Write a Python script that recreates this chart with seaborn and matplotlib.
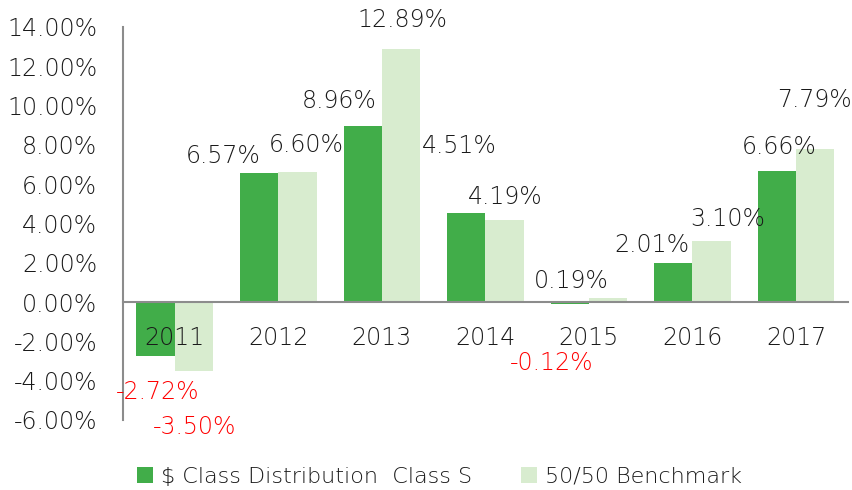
import matplotlib
matplotlib.use("Agg")
import matplotlib.pyplot as plt
import matplotlib.ticker as mticker
from matplotlib.patches import Patch
import seaborn as sns
import pandas as pd

years = ["2011", "2012", "2013", "2014", "2015", "2016", "2017"]
series_names = ["$ Class Distribution  Class S", "50/50 Benchmark"]
class_s = [-2.72, 6.57, 8.96, 4.51, -0.12, 2.01, 6.66]
benchmark = [-3.50, 6.60, 12.89, 4.19, 0.19, 3.10, 7.79]

# label offsets (pixels) relative to each bar's end, as placed in the reference
offsets_s = [(2, -36), (-36, 17), (-24, 25), (-7, 67), (-18, -59), (-21, 18), (2, 24)]
offsets_b = [(1, -56), (9, 27), (1, 29), (1, 23), (-37, 17), (16, 22), (-1, 49)]

dark = "#41AD49"
light = "#D8ECCF"
text_c = "#1a1a1a"
spine_c = "#8c8c8c"

df = pd.DataFrame({
    "year": years * 2,
    "value": class_s + benchmark,
    "series": [series_names[0]] * len(years) + [series_names[1]] * len(years),
})

sns.set_theme(style="white")
plt.rcParams["font.family"] = ["DejaVu Sans"]
plt.rcParams["font.weight"] = "light"

fig = plt.figure(figsize=(8.52, 4.90), dpi=100)
ax = fig.add_axes([0.1444, 0.1429, 0.9950 - 0.1444, 0.9449 - 0.1429])

sns.barplot(data=df, x="year", y="value", hue="series", hue_order=series_names,
            palette=[dark, light], width=0.74, ax=ax, legend=False, saturation=1,
            linewidth=0)

ax.set_axisbelow(False)
ax.set_xlim(-0.5, 6.5)
ax.set_ylim(-6, 14)
ax.set_yticks(range(-6, 15, 2))
ax.yaxis.set_major_formatter(mticker.FuncFormatter(lambda v, p: f"{v:.2f}%"))
ax.set_xlabel("")
ax.set_ylabel("")

for s in ["top", "right"]:
    ax.spines[s].set_visible(False)
ax.spines["bottom"].set_position(("data", 0))
ax.spines["bottom"].set_color(spine_c)
ax.spines["left"].set_color(spine_c)
ax.spines["bottom"].set_linewidth(1.5)
ax.spines["left"].set_linewidth(1.5)

ax.tick_params(axis="y", length=0, pad=18.5, labelsize=17, labelcolor=text_c)
ax.tick_params(axis="x", length=0, pad=17, labelsize=17, labelcolor=text_c)

for cont, vals, offs in zip(ax.containers, [class_s, benchmark], [offsets_s, offsets_b]):
    for bar, v, (dx, dy) in zip(cont, vals, offs):
        cx = bar.get_x() + bar.get_width() / 2
        ax.annotate(f"{v:.2f}%", xy=(cx, v), xytext=(dx, dy),
                    textcoords="offset pixels", ha="center", va="center",
                    fontsize=17, color=("#FF0000" if v < 0 else text_c),
                    annotation_clip=False, zorder=5)

handles = [Patch(facecolor=dark, edgecolor="none"), Patch(facecolor=light, edgecolor="none")]
fig.legend(handles, series_names, loc="center", bbox_to_anchor=(0.516, 0.027),
           ncol=2, frameon=False, fontsize=16, handlelength=0.72, handleheight=0.72,
           handletextpad=0.36, columnspacing=2.2, labelcolor=text_c)

fig.savefig("out.png", dpi=100)
